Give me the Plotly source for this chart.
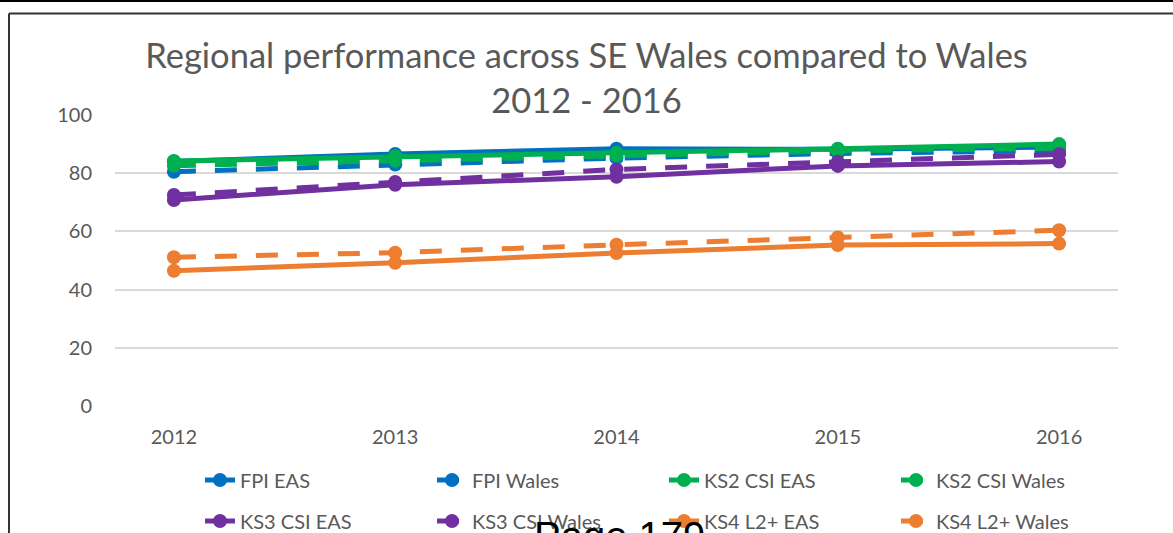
import plotly.graph_objects as go

years = ["2012", "2013", "2014", "2015", "2016"]
fpi_eas = [84.0, 86.6, 88.4, 88.2, 89.0]
fpi_wales = [80.5, 83.0, 85.2, 86.8, 87.7]
ks2_eas = [84.2, 85.8, 87.0, 88.4, 90.0]
ks2_wales = [82.6, 84.3, 86.1, 87.7, 88.6]
ks3_eas = [70.8, 76.0, 78.8, 82.5, 84.0]
ks3_wales = [72.5, 77.0, 81.3, 83.9, 86.5]
ks4_eas = [46.5, 49.2, 52.6, 55.3, 55.8]
ks4_wales = [51.1, 52.7, 55.4, 57.9, 60.4]

series = [
    ("FPI EAS", fpi_eas, "#0070C0", "solid", "legend"),
    ("FPI Wales", fpi_wales, "#0070C0", "dash", "legend"),
    ("KS2 CSI EAS", ks2_eas, "#00B050", "solid", "legend"),
    ("KS2 CSI Wales", ks2_wales, "#00B050", "dash", "legend"),
    ("KS3 CSI EAS", ks3_eas, "#7030A0", "solid", "legend2"),
    ("KS3 CSI Wales", ks3_wales, "#7030A0", "dash", "legend2"),
    ("KS4 L2+ EAS", ks4_eas, "#ED7D31", "solid", "legend2"),
    ("KS4 L2+ Wales", ks4_wales, "#ED7D31", "dash", "legend2"),
]

FONT = "Lato"
TXT = "#595959"

fig = go.Figure()
for name, vals, color, dash, leg in series:
    fig.add_trace(go.Scatter(
        x=years, y=vals, name=name, mode="lines+markers",
        line=dict(color=color, width=5, dash="22px,19px" if dash == "dash" else "solid"),
        marker=dict(color=color, size=14),
        legend=leg,
    ))

# plot area pixel geometry
L, R, T, B = 115, 1118, 115, 406
W, H = R - L, B - T
def px(x):
    return (x - L) / W
def py(y):
    return (B - y) / H

legend_common = dict(
    orientation="h", xanchor="left", yanchor="middle",
    font=dict(family=FONT, size=20, color=TXT),
    entrywidth=187, entrywidthmode="pixels",
    bgcolor="rgba(0,0,0,0)", traceorder="normal",
)

fig.update_layout(
    width=1173, height=533,
    margin=dict(l=L, r=1173 - R, t=T, b=533 - B, autoexpand=False),
    paper_bgcolor="white", plot_bgcolor="white",
    font=dict(family=FONT, color=TXT),
    title=dict(
        text="Regional performance across SE Wales compared to Wales<br>2012 - 2016",
        x=0.5, xanchor="center", xref="container",
        y=1 - 68 / 533, yanchor="top", yref="container",
        font=dict(family=FONT, size=34.5, color=TXT),
    ),
    xaxis=dict(
        type="category", showgrid=False, showline=False, zeroline=False,
        ticks="", tickfont=dict(family=FONT, size=20, color=TXT),
        ticklabelstandoff=17, automargin=False,
    ),
    yaxis=dict(
        range=[0, 100], dtick=20, showgrid=True, gridcolor="#D9D9D9", gridwidth=2,
        zeroline=False, showline=False, ticks="",
        tickfont=dict(family=FONT, size=20, color=TXT),
        ticklabelstandoff=22, automargin=False,
    ),
    legend=dict(x=px(200), y=py(480), **legend_common),
    legend2=dict(x=px(200), y=py(521), **legend_common),
    showlegend=True,
)

# frame lines around the chart (page border artefacts)
fig.add_shape(type="line", xref="paper", yref="paper",
              x0=px(-50), x1=px(1250), y0=py(1), y1=py(1),
              line=dict(color="black", width=2))
fig.add_shape(type="line", xref="paper", yref="paper",
              x0=px(9), x1=px(1250), y0=py(13.5), y1=py(13.5),
              line=dict(color="#333333", width=2))
fig.add_shape(type="line", xref="paper", yref="paper",
              x0=px(9), x1=px(9), y0=py(13.5), y1=py(600),
              line=dict(color="#333333", width=2))

fig.add_annotation(
    text="Page 179", xref="paper", yref="paper",
    x=px(532), y=py(512), xanchor="left", yanchor="top",
    showarrow=False, font=dict(family="Liberation Sans", size=40, color="black"),
)

fig.write_html(
    "out.html",
    config={"displayModeBar": False},
    post_script="document.body.style.margin='0';document.body.style.overflow='hidden';",
)
